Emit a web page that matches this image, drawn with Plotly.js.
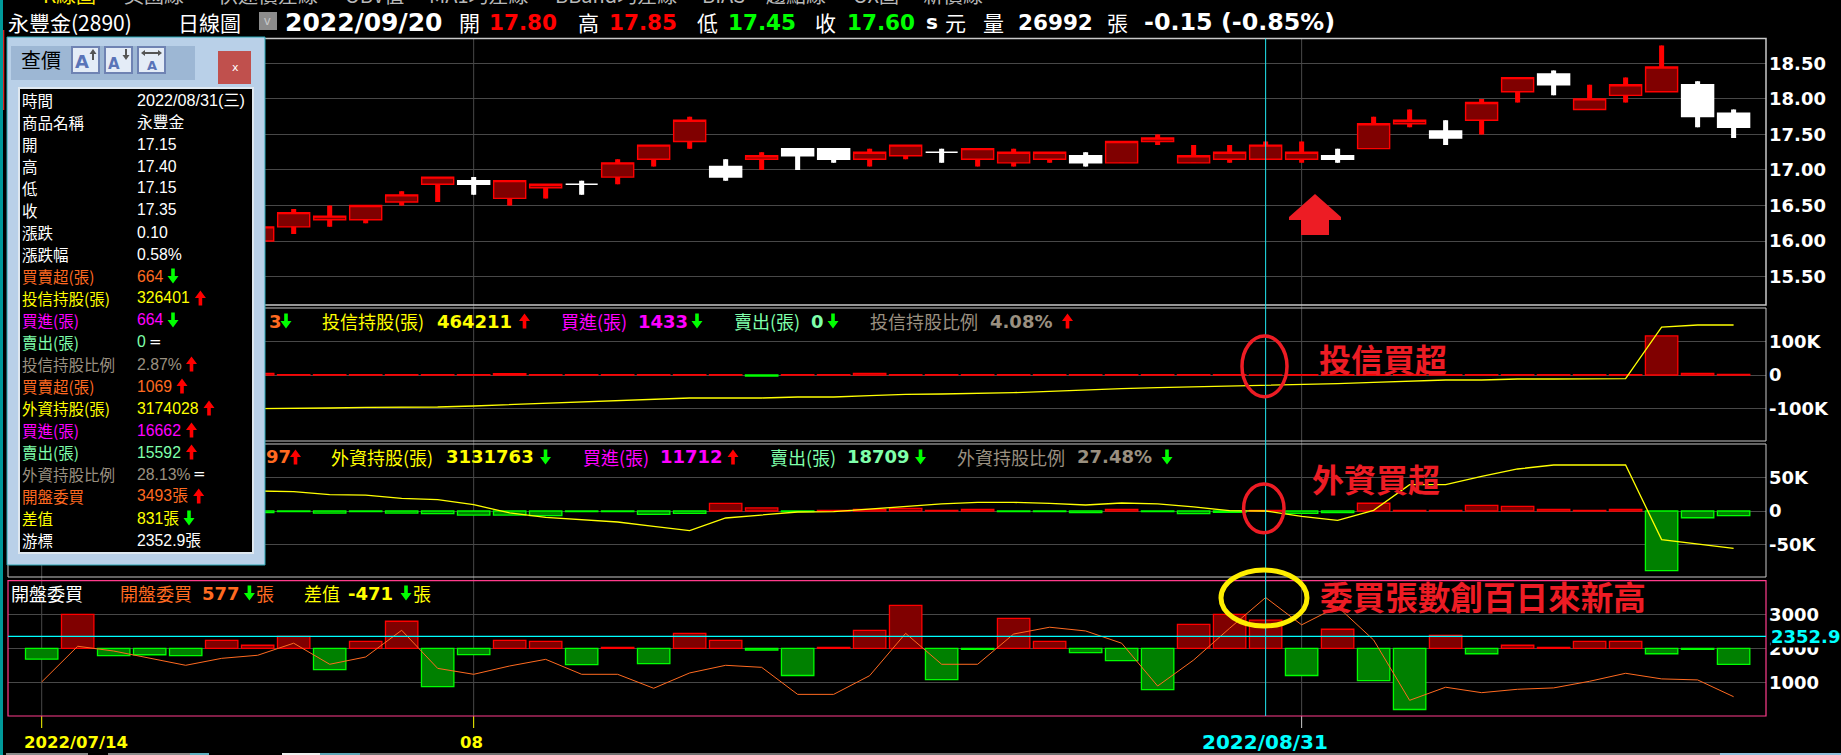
<!DOCTYPE html>
<html><head><meta charset="utf-8">
<script src="https://cdn.plot.ly/plotly-3.0.1.min.js"></script>
<style>html,body{margin:0;padding:0;background:#000;overflow:hidden}#chart{width:1841px;height:755px}</style>
</head><body><div id="chart"></div>
<script>
// ---- data (index 0 = 2022/07/14, 47 = 2022/09/20) ----
const dayIndex = [0,1,2,3,4,5,6,7,8,9,10,11,12,13,14,15,16,17,18,19,20,21,22,23,24,25,26,27,28,29,30,31,32,33,34,35,36,37,38,39,40,41,42,43,44,45,46,47];
// candles 0-5 sit behind the quote window in the reference
const openPrice  = [null,null,null,null,null,null,16.00,16.20,16.30,16.30,16.55,16.80,16.85,16.60,16.75,16.80,16.90,17.15,17.40,17.05,17.15,17.30,17.30,17.15,17.20,17.25,17.15,17.10,17.15,17.20,17.10,17.40,17.10,17.15,17.15,17.15,17.20,17.30,17.65,17.55,17.70,18.10,18.35,17.85,18.05,18.10,18.20,17.80];
const highPrice  = [null,null,null,null,null,null,16.20,16.45,16.50,16.50,16.70,16.90,16.90,16.85,16.80,16.85,17.15,17.35,17.75,17.15,17.25,17.30,17.30,17.30,17.35,17.30,17.30,17.30,17.25,17.25,17.40,17.50,17.35,17.35,17.40,17.40,17.30,17.75,17.85,17.70,18.00,18.30,18.40,18.20,18.30,18.75,18.25,17.85];
const lowPrice   = [null,null,null,null,null,null,16.00,16.10,16.20,16.25,16.50,16.55,16.65,16.50,16.60,16.65,16.80,17.05,17.30,16.85,17.00,17.00,17.10,17.05,17.15,17.10,17.05,17.05,17.10,17.05,17.10,17.35,17.10,17.10,17.15,17.10,17.10,17.30,17.60,17.35,17.50,17.95,18.05,17.85,17.95,18.10,17.60,17.45];
const closePrice = [null,null,null,null,null,null,16.20,16.40,16.35,16.50,16.65,16.90,16.80,16.85,16.80,16.80,17.10,17.35,17.70,16.90,17.20,17.20,17.15,17.25,17.35,17.25,17.30,17.25,17.25,17.10,17.40,17.45,17.20,17.25,17.35,17.25,17.15,17.65,17.70,17.45,17.95,18.30,18.20,18.00,18.20,18.45,17.75,17.60];
const trustNet   = [null,null,null,null,null,null,5000,1000,1200,1000,1000,1000,800,4000,1000,1000,1000,1000,1200,1000,-3000,1000,1000,5000,1000,1000,1000,1000,1000,1000,1000,1000,1000,1000,664,1200,1000,1000,1000,1000,1000,1000,1000,1000,1000,116000,5000,1433];
const trustHold  = [null,null,null,null,null,null,272000,272000,273600,275100,275100,275900,278200,281200,285100,288100,290400,293500,296500,296500,296500,298800,298800,301900,305000,305700,306500,308800,311900,315700,318000,320300,321800,324900,326401,327900,329500,332500,334800,337900,337900,340200,340200,340200,340900,459600,464200,464211];
const foreignNet = [null,null,null,null,null,null,-2500,-1000,-3000,-1000,-3000,-4000,-6000,-6000,-7000,-1000,-1000,-5000,-3500,11400,4500,-1000,1000,2500,4000,1000,2500,-1000,-1000,-2500,2500,-1000,-4000,-2000,1069,-3500,-2500,11500,1000,1000,8500,7000,2500,1000,2500,-88600,-10000,-6997];
const foreignHold= [null,null,null,null,null,null,3196700,3195900,3192500,3192100,3188400,3186900,3181200,3171800,3166900,3164200,3161600,3156700,3151800,3166100,3169100,3172900,3173300,3176300,3179300,3182000,3183800,3183800,3182700,3180800,3183100,3182000,3178600,3174400,3174028,3168000,3163500,3174800,3203800,3203800,3213300,3221600,3226100,3226100,3226100,3141600,3136700,3131763];
const openBid    = [1010,2060,1920,1705,1500,1705,1795,2150,1530,1745,2530,1410,1235,1480,1675,1235,1235,825,1275,1500,1440,645,645,1195,2440,1530,1530,2420,2620,2510,2150,890,1655,2590,3493,2690,3225,2245,470,855,695,795,835,1030,1265,1100,1070,577];
const bidDiff    = [-320,1000,-215,-190,-215,235,90,350,-630,205,795,-1130,-185,235,205,-480,30,-450,440,235,-50,-800,30,530,1265,-920,-30,880,205,-130,-360,-1215,705,1000,831,-800,560,-950,-1800,380,-160,90,30,205,205,-160,-30,-471];

const priceTicks = [15.5,16,16.5,17,17.5,18,18.5];
const priceTickText = ['15.50','16.00','16.50','17.00','17.50','18.00','18.50'];
const trustTicks = [-100000,0,100000];
const trustTickText = ['-100K','0','100K'];
const foreignTicks = [-50000,0,50000];
const foreignTickText = ['-50K','0','50K'];
const bidTicks = [1000,2000,3000];
const bidTickText = ['1000','2000','3000'];
const monthGridDays = [0,12,35];
const cursorDay = 34;
const cursorBid = 2352.9;

const quoteLabels = ['時間','商品名稱','開','高','低','收','漲跌','漲跌幅','買賣超(張)','投信持股(張)','買進(張)','賣出(張)','投信持股比例','買賣超(張)','外資持股(張)','買進(張)','賣出(張)','外資持股比例','開盤委買','差值','游標'];
const quoteValues = ['2022/08/31(三)','永豐金','17.15','17.40','17.15','17.35','0.10','0.58%','664','326401','664','0','2.87%','1069','3174028','16662','15592','28.13%','3493張','831張','2352.9張'];
const quoteMarks  = ['','','','','','','','','↓','↑','↓','=','↑','↑','↑','↑','↑','=','↑','↓',''];
const topTabs = ['K線圖','美國線','快速價差線','OBV值','MA1均差線','BBand均差線','BIAS','趨點線','OX圖','新價線'];

// ---- page geometry helpers (pixels of the 1841x755 page) ----
const W = 1841, H = 755;
const px = v => v / W, py = v => 1 - v / H;
const dom = (t, b) => [py(b), py(t)];
const ORANGE='#ff6a20', YEL='#ffff00', MAG='#ff00ff', MINT='#7fffaa', GREY='#9a9080', RED='#ff0000', LIME='#00ff00', ANN='#ed1c24';
const CJK='"Noto Sans CJK TC","Noto Sans CJK SC",sans-serif', BOLD='"DejaVu Sans",sans-serif', ARIAL='"Liberation Sans",sans-serif';

const notes = [];
function note(text, x, y, size, color, o) {
  o = o || {};
  notes.push(Object.assign({text, xref:'paper', yref:'paper', x:px(x), y:py(y), xanchor:'left', yanchor:'middle',
    showarrow:false, borderpad:0, font:{family:CJK, size, color}}, o));
}
const bold = (t,x,y,size,color,o) => note('<b>'+t+'</b>',x,y,size,color,Object.assign({font:{family:BOLD,size,color}},o||{}));

const shapes = [];
const rect = (x0,y0,x1,y1,fill,line,lw) => shapes.push({type:'rect',xref:'paper',yref:'paper',x0:px(x0),x1:px(x1),y0:py(y0),y1:py(y1),
  fillcolor:fill||'rgba(0,0,0,0)',line:{color:line||'rgba(0,0,0,0)',width:line?(lw||1):0},layer:'above'});
const oval = (x0,y0,x1,y1,line,lw) => shapes.push({type:'circle',xref:'paper',yref:'paper',x0:px(x0),x1:px(x1),y0:py(y0),y1:py(y1),
  line:{color:line,width:lw},layer:'above'});
const poly = (pts,fill) => shapes.push({type:'path',xref:'paper',yref:'paper',
  path:'M '+pts.map(p=>px(p[0])+' '+py(p[1])).join(' L ')+' Z',fillcolor:fill,line:{width:0},layer:'above'});
// block arrow glyph, centred on (cx,cy)
function arrow(up,cx,cy){
  const s = up?-1:1, c = up?RED:LIME, hw=5.5, sw=1.8, hh=7.5;
  const tip=cy+s*7.5, neck=tip-s*hh, tail=cy-s*7.5;
  poly([[cx,tip],[cx+hw,neck],[cx+sw,neck],[cx+sw,tail],[cx-sw,tail],[cx-sw,neck],[cx-hw,neck]],c);
}

// vertical month grid, ticks, cursor
monthGridDays.forEach(d => {
  shapes.push({type:'line',xref:'x',yref:'paper',x0:d,x1:d,y0:py(38),y1:py(716),line:{color:'#484848',width:1},layer:'below'});
  shapes.push({type:'line',xref:'x',yref:'paper',x0:d,x1:d,y0:py(716),y1:py(728),line:{color:d===35?'#cccccc':YEL,width:1},layer:'below'});
});
// panel frames
rect(8,38.5,1766,305,null,'#c8c8c8',1.5);
rect(8,308,1766,441,null,'#c8c8c8',1);
rect(8,444,1766,577,null,'#c8c8c8',1);
rect(8,580.7,1766,716,null,'#ff3c8c',1.2);
// cursor
shapes.push({type:'line',xref:'x',yref:'paper',x0:cursorDay,x1:cursorDay,y0:py(38.5),y1:py(716),line:{color:'#22e6f0',width:1},layer:'above'});
shapes.push({type:'line',xref:'paper',yref:'y4',x0:px(8),x1:px(1766),y0:cursorBid,y1:cursorBid,line:{color:'#00ffff',width:1.2},layer:'above'});
// callouts
poly([[1315,194],[1341,217],[1341,220],[1329,220],[1329,235],[1301,235],[1301,220],[1289,220],[1289,217]],ANN);
oval(1242,336,1287,396.7,ANN,3.5);
oval(1243.6,484,1284,532.7,ANN,3.5);
oval(1221,570,1307,626,'#ffee00',5);
// page edges
rect(0,0,3,755,'#009a9a');
rect(3,30,4.3,110,'#dd2222');
rect(6,753,88,755,'#8a8a8a'); rect(108,753,190,755,'#8a8a8a'); rect(190,753,209,755,'#5fb0c0');
rect(282,753,320,755,'#eeeeee'); rect(320,753,360,755,'#5fa8b8'); rect(360,753,1720,755,'#707070'); rect(1720,753,1841,755,'#8fc0dc');
// dropdown box
rect(259,12,277,30,'#8c8c8c');
note('v',263,21,13,'#c8c8c8',{font:{family:ARIAL,size:13,color:'#c8c8c8'}});

// top tab strip (only the lower edge of the glyphs is on the page, as in the reference)
const tabX = [42,123,217,344,428,554,701,765,852,922];
topTabs.forEach((t,i)=>note(t,tabX[i],-5.5,20,i===0?'#ffee00':'#b8b8b8'));

// header row
note('永豐金(2890)',7,22,21,'#ffffff');
note('日線圖',177,22,21,'#ffffff');
bold('2022/09/20',284,22,25,'#ffffff');
note('開',458,22,21,'#ffffff'); bold('17.80',488,22,21.5,RED);
note('高',577,22,21,'#ffffff'); bold('17.85',608,22,21.5,RED);
note('低',696,22,21,'#ffffff'); bold('17.45',727,22,21.5,LIME);
note('收',814,22,21,'#ffffff'); bold('17.60',846,22,21.5,LIME);
bold('s',925,22,20,'#ffffff'); note('元',944,22,21,'#ffffff');
note('量',982,22,21,'#ffffff'); bold('26992',1017,22,21.5,'#ffffff');
note('張',1106,22,21,'#ffffff'); bold('-0.15 (-0.85%)',1143,22,23.8,'#ffffff');

// panel 2 heading
const r2=321;
bold('3',268,r2,18,ORANGE); arrow(false,286,r2);
note('投信持股(張)',321,r2,18,YEL); bold('464211',436,r2,18,YEL); arrow(true,524.5,r2);
note('買進(張)',560,r2,18,MAG); bold('1433',637,r2,18,MAG); arrow(false,697,r2);
note('賣出(張)',733,r2,18,MINT); bold('0',810,r2,18,MINT); arrow(false,833,r2);
note('投信持股比例',869,r2,18,GREY); bold('4.08%',989,r2,18,GREY); arrow(true,1067.5,r2);
// panel 3 heading
const r3=457;
bold('97',265,r3,18,ORANGE); arrow(true,295.5,r3);
note('外資持股(張)',330,r3,18,YEL); bold('3131763',445,r3,18,YEL); arrow(false,545.5,r3);
note('買進(張)',582,r3,18,MAG); bold('11712',659,r3,18,MAG); arrow(true,733,r3);
note('賣出(張)',769,r3,18,MINT); bold('18709',846,r3,18,MINT); arrow(false,920.5,r3);
note('外資持股比例',956,r3,18,GREY); bold('27.48%',1076,r3,18,GREY); arrow(false,1167,r3);
// panel 4 heading
const r4=593;
note('開盤委買',10,r4,18,'#ffffff');
note('開盤委買',119,r4,18,ORANGE); bold('577',201,r4,18,ORANGE); arrow(false,249.4,r4); note('張',255,r4,18,ORANGE);
note('差值',303,r4,18,YEL); bold('-471',347,r4,18,YEL); arrow(false,406,r4); note('張',412,r4,18,YEL);
// callout text
note('<b>投信買超</b>',1318,358,32,ANN);
note('<b>外資買超</b>',1311,478,32,ANN);
note('<b>委買張數創百日來新高</b>',1319,595,32.6,ANN);
// x labels
bold('2022/07/14',23,742,16.5,YEL);
bold('08',471,742,16.5,YEL,{xanchor:'center'});
bold('2022/08/31',1265,742,20,'#00ffff',{xanchor:'center'});
bold('2352.9',1770,636.5,18,'#00ffff',{bgcolor:'#000000'});

// quote window
rect(7,37,265,565,'#b9d0e8','#2aa7b5',1);
rect(11,46,195,80,'#9db7d4');
rect(218,51,251,84,'#c0504d');
note('x',230.5,67.5,11,'#ffffff',{font:{family:BOLD,size:11,color:'#ffffff'}});
note('查價',20,60,20,'#000000');
[72,105,138].forEach(ix=>rect(ix,47,ix+27,73,'#e4ecf7','#6f83b3',2));
note('<b>A</b>',74,62,18,'#5a74b8',{font:{family:BOLD,size:18,color:'#5a74b8'}});
note('<b>A</b>',107,64,15,'#5a74b8',{font:{family:BOLD,size:15,color:'#5a74b8'}});
note('<b>A</b>',146,65,13,'#5a74b8',{font:{family:BOLD,size:13,color:'#5a74b8'}});
poly([[93,49],[96.5,54],[94,54],[94,60],[92,60],[92,54],[89.5,54]],'#555555');
poly([[126,60],[129.5,55],[127,55],[127,49],[125,49],[125,55],[122.5,55]],'#555555');
poly([[141,53],[145,50],[145,52],[158,52],[158,50],[162,53],[158,56],[158,54],[145,54],[145,56]],'#555555');
rect(19,88,253,553,'#000000','#dfe8f0',2);
const rowLabelColor = ['#fff','#fff','#fff','#fff','#fff','#fff','#fff','#fff',ORANGE,YEL,MAG,MINT,GREY,ORANGE,YEL,MAG,MINT,GREY,ORANGE,YEL,'#fff'];
const markCentre = [0,0,0,0,0,0,0,0,173,200.4,173,155,191.5,182,209,191.5,191.5,199.5,198.7,189,0];
quoteLabels.forEach((t,i)=>{
  const y = 100 + 22*i;
  note(t,21,y,15.5,rowLabelColor[i]);
  const size = i===0?16.2:15.8;
  note(quoteValues[i],135.5,y,size,rowLabelColor[i],{font:{family:ARIAL+','+CJK,size,color:rowLabelColor[i]}});
  if(quoteMarks[i]==='=') note('=',markCentre[i],y,15,'#ffffff',{xanchor:'center',font:{family:BOLD,size:15,color:'#ffffff'}});
  else if(quoteMarks[i]) arrow(quoteMarks[i]==='↑',markCentre[i],y);
});

// ---- traces ----
const isUp = i => closePrice[i] !== null && closePrice[i] > openPrice[i];
const pick = (arr, test) => arr.map((v,i)=>test(i)?v:null);
const isDown = i => closePrice[i] !== null && !isUp(i);
const wickLen = highPrice.map((h,i)=>h===null?null:+(h-lowPrice[i]).toFixed(2));
const signFill = a => a.map(v=>v>=0?'#800000':'#008000');
const signLine = a => a.map(v=>v>=0?RED:LIME);

const traces = [
  {type:'bar',name:'wick',x:dayIndex,y:wickLen,base:lowPrice,width:0.14,xaxis:'x',yaxis:'y',
   marker:{color:dayIndex.map(i=>isUp(i)?RED:'#ffffff'),line:{width:0}},hoverinfo:'skip'},
  {type:'candlestick',name:'漲',x:dayIndex,open:pick(openPrice,isUp),high:pick(highPrice,isUp),low:pick(lowPrice,isUp),close:pick(closePrice,isUp),
   xaxis:'x',yaxis:'y',increasing:{line:{color:RED,width:1.4},fillcolor:'#800000'},decreasing:{line:{color:RED,width:1.4},fillcolor:'#800000'},hoverinfo:'skip'},
  {type:'candlestick',name:'跌',x:dayIndex,open:pick(openPrice,isDown),high:pick(highPrice,isDown),low:pick(lowPrice,isDown),close:pick(closePrice,isDown),
   xaxis:'x',yaxis:'y',increasing:{line:{color:'#fff',width:1.4},fillcolor:'#fff'},decreasing:{line:{color:'#fff',width:1.4},fillcolor:'#fff'},hoverinfo:'skip'},
  {type:'bar',name:'投信買賣超',x:dayIndex,y:trustNet,width:0.9,xaxis:'x',yaxis:'y2',
   marker:{color:signFill(trustNet),line:{color:signLine(trustNet),width:1.3}},hoverinfo:'skip'},
  {type:'scatter',mode:'lines',name:'投信持股',x:dayIndex,y:trustHold,xaxis:'x',yaxis:'y5',line:{color:YEL,width:1.3},hoverinfo:'skip'},
  {type:'bar',name:'外資買賣超',x:dayIndex,y:foreignNet,width:0.9,xaxis:'x',yaxis:'y3',
   marker:{color:signFill(foreignNet),line:{color:signLine(foreignNet),width:1.3}},hoverinfo:'skip'},
  {type:'scatter',mode:'lines',name:'外資持股',x:dayIndex,y:foreignHold,xaxis:'x',yaxis:'y6',line:{color:YEL,width:1.3},hoverinfo:'skip'},
  {type:'bar',name:'差值',x:dayIndex,y:bidDiff,base:2000,width:0.9,xaxis:'x',yaxis:'y4',
   marker:{color:signFill(bidDiff),line:{color:signLine(bidDiff),width:1.3}},hoverinfo:'skip'},
  {type:'scatter',mode:'lines',name:'開盤委買',x:dayIndex,y:openBid,xaxis:'x',yaxis:'y4',line:{color:ORANGE,width:1},hoverinfo:'skip'}
];

const yCommon = {anchor:'x',side:'right',showgrid:true,gridcolor:'#484848',gridwidth:1,zeroline:false,showline:false,ticks:'',ticklabelstandoff:2,
  tickmode:'array',fixedrange:true,tickfont:{family:BOLD,size:18,color:'#ffffff',weight:700}};
const layout = {
  width:W,height:H,margin:{l:0,r:0,t:0,b:0,pad:0},paper_bgcolor:'#000000',plot_bgcolor:'#000000',
  showlegend:false,hovermode:false,barmode:'overlay',boxgap:0.11,boxgroupgap:0,bargap:0.1,
  xaxis:{domain:[px(8),px(1766)],range:[-0.936,47.9],anchor:'y4',visible:false,fixedrange:true,rangeslider:{visible:false}},
  yaxis:Object.assign({},yCommon,{domain:dom(38.5,305),range:[15.1,18.85],tickvals:priceTicks,ticktext:priceTickText}),
  yaxis2:Object.assign({},yCommon,{domain:dom(308,441),range:[-196000,199000],tickvals:trustTicks,ticktext:trustTickText}),
  yaxis3:Object.assign({},yCommon,{domain:dom(444,577),range:[-98000,99500],tickvals:foreignTicks,ticktext:foreignTickText}),
  yaxis4:Object.assign({},yCommon,{domain:dom(580.7,716),range:[9,3988],tickvals:bidTicks,ticktext:bidTickText}),
  yaxis5:{overlaying:'y2',side:'right',anchor:'x',visible:false,range:[197780,503254],fixedrange:true},
  yaxis6:{overlaying:'y3',side:'right',anchor:'x',visible:false,range:[3099303,3249885],fixedrange:true},
  shapes:shapes,annotations:notes
};
Plotly.newPlot('chart',traces,layout,{displayModeBar:false,staticPlot:true});
</script></body></html>
